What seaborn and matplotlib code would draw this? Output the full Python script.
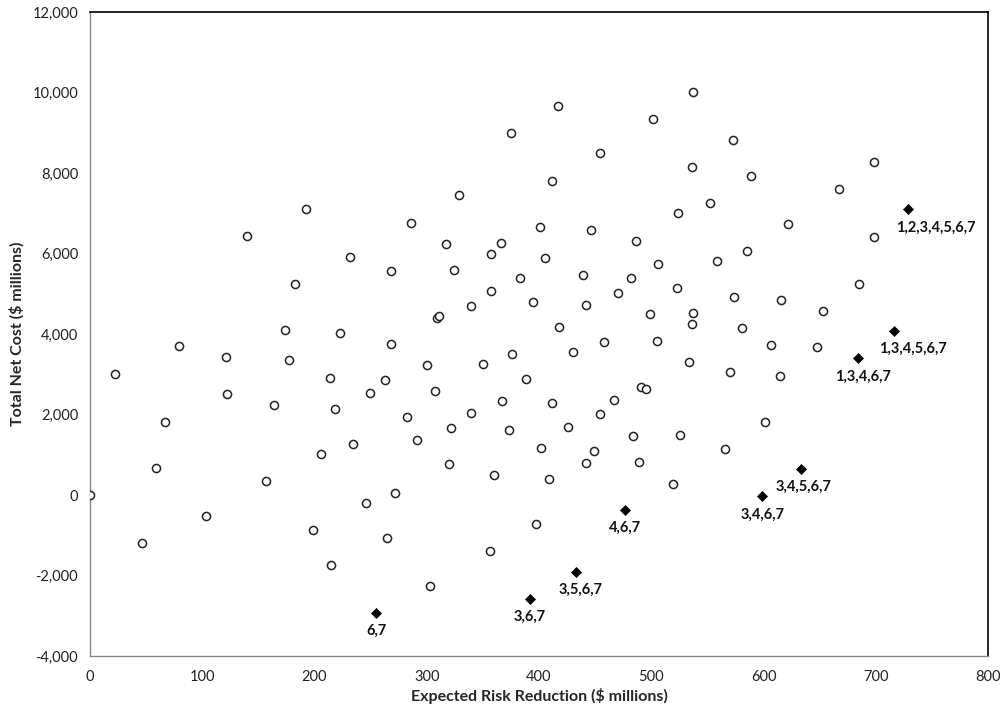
import matplotlib
matplotlib.use("Agg")
import matplotlib.pyplot as plt
from matplotlib.ticker import FuncFormatter
import seaborn as sns
import pandas as pd

# portfolios (open circles): expected risk reduction vs total net cost, $ millions
risk_reduction = [
    0, 22, 46, 59, 67, 79, 103, 121, 122, 140, 157, 164, 174, 177, 183, 192,
    199, 206, 214, 215, 218, 223, 232, 234, 246, 249, 263, 265, 268, 268, 272,
    282, 286, 291, 300, 303, 307, 309, 311, 317, 320, 322, 324, 329, 339, 339,
    350, 356, 357, 357, 360, 366, 367, 373, 375, 376, 383, 388, 395, 397, 401,
    402, 405, 409, 412, 412, 417, 418, 426, 430, 439, 442, 442, 446, 449, 454,
    454, 458, 467, 470, 482, 484, 486, 489, 491, 495, 499, 502, 505, 506, 519,
    523, 524, 526, 534, 536, 536, 537, 537, 552, 559, 566, 570, 573, 574, 581,
    585, 589, 601, 607, 615, 616, 622, 648, 653, 667, 685, 698, 698,
]
net_cost = [
    0, 3020, -1200, 680, 1810, 3700, -520, 3420, 2520, 6435, 350, 2236, 4091,
    3362, 5250, 7106, -870, 1019, 2907, -1739, 2145, 4033, 5921, 1275, -191,
    2542, 2857, -1060, 3760, 5557, 60, 1946, 6766, 1358, 3222, -2253, 2576,
    4405, 4440, 6236, 762, 1673, 5590, 7445, 4688, 2037, 3247, -1399, 5988,
    5061, 489, 6269, 2344, 1615, 9002, 3503, 5391, 2882, 4803, -721, 6659,
    1160, 5896, 398, 2294, 7809, 9673, 4182, 1698, 3553, 5474, 795, 4713,
    6576, 1101, 2012, 8489, 3809, 2368, 5027, 5391, 1466, 6318, 820, 2683,
    2626, 4490, 9334, 3834, 5732, 281, 5135, 6999, 1499, 3304, 4241, 8149,
    4515, 10005, 7247, 5814, 1135, 3048, 8828, 4912, 4149, 6062, 7926, 1814,
    3727, 2965, 4837, 6741, 3669, 4579, 7595, 5250, 6410, 8266,
]

# efficient portfolios (filled diamonds)
eff_labels = ["6,7", "3,6,7", "3,5,6,7", "4,6,7", "3,4,6,7", "3,4,5,6,7",
              "1,3,4,6,7", "1,3,4,5,6,7", "1,2,3,4,5,6,7"]
eff_risk = [255, 392, 433, 477, 599, 633, 684, 716, 729]
eff_cost = [-2924, -2584, -1905, -373, -32, 646, 3396, 4082, 7098]
label_dx = [0, 0, 3, 0, 0, 2, 4, 14, 20]

sns.set_style("white")
plt.rcParams["font.family"] = ["Lato", "DejaVu Sans"]

fig = plt.figure(figsize=(10, 7.09), dpi=100)
ax = fig.add_axes([0.09, 0.0748, 0.898, 0.908])

pts = pd.DataFrame({"x": risk_reduction, "y": net_cost})
eff = pd.DataFrame({"x": eff_risk, "y": eff_cost, "label": eff_labels})

sns.scatterplot(data=pts, x="x", y="y", ax=ax, marker="o", s=34,
                facecolor="white", edgecolor="#222222", linewidth=1.1, zorder=3)
sns.scatterplot(data=eff, x="x", y="y", ax=ax, marker="D", s=26,
                color="black", edgecolor="black", linewidth=0.5, zorder=4)

for (_, r), dx in zip(eff.iterrows(), label_dx):
    ax.annotate(r["label"], (r["x"], r["y"]), xytext=(dx, -13),
                textcoords="offset points", ha="center", va="center",
                fontsize=10.5, fontweight="bold", color="#111111")

ax.set_xlim(0, 800)
ax.set_ylim(-4000, 12000)
ax.set_xticks(range(0, 801, 100))
ax.set_yticks(range(-4000, 12001, 2000))
ax.yaxis.set_major_formatter(FuncFormatter(lambda v, p: f"{int(v):,}"))

ax.set_xlabel("Expected Risk Reduction ($ millions)", fontsize=11.5,
              fontweight="bold", labelpad=3)
ax.set_ylabel("Total Net Cost ($ millions)", fontsize=11.5,
              fontweight="bold", labelpad=6)

ax.tick_params(axis="both", which="major", direction="out", length=5,
               width=1, color="#888888", labelsize=10.5, labelcolor="#222222")
ax.tick_params(axis="x", pad=5)

for side in ["left", "bottom"]:
    ax.spines[side].set_color("#888888")
    ax.spines[side].set_linewidth(1)
for side in ["top", "right"]:
    ax.spines[side].set_visible(True)
    ax.spines[side].set_color("black")
    ax.spines[side].set_linewidth(1.2)

plt.savefig("out.png", dpi=100)
plt.close()
